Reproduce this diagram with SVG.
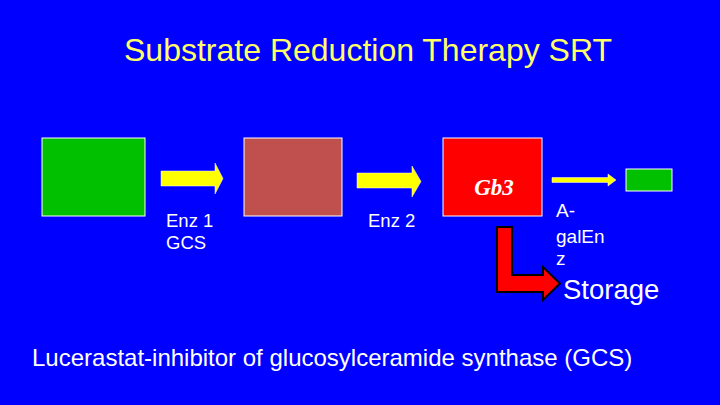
<svg xmlns="http://www.w3.org/2000/svg" width="720" height="405" viewBox="0 0 720 405">
<style>
.box{stroke:#ffffff;stroke-width:1}
.t{font-family:"Liberation Sans",Arial,sans-serif;fill:#ffffff}
.ya{fill:#ffff00;stroke:#ffffff;stroke-width:0.5}
</style>
<rect x="0" y="0" width="720" height="405" fill="#0000ff"/>
<text x="368" y="61" text-anchor="middle" class="t" style="fill:#ffff66" font-size="32">Substrate Reduction Therapy SRT</text>
<g id="node-green1"><rect class="box" x="42" y="138" width="103" height="78" fill="#00c000"/></g>
<g id="node-brown"><rect class="box" x="244" y="138" width="98" height="78" fill="#c0504d"/></g>
<g id="node-gb3"><rect class="box" x="443" y="138" width="99" height="78" fill="#ff0000"/>
<text x="494" y="195" text-anchor="middle" font-family="'Liberation Serif','Times New Roman',serif" font-style="italic" font-weight="bold" font-size="23" fill="#ffffff">Gb3</text></g>
<g id="node-green2"><rect class="box" x="626" y="169" width="46" height="22" fill="#00c000"/></g>
<g id="node-storage"><text x="563" y="299" class="t" font-size="27.5">Storage</text></g>
<g id="connectors">
<polygon class="ya" points="161,171 215,171 215,163 223,178.5 215,194 215,186 161,186"/>
<polygon class="ya" points="357,173 412,173 412,166 421,181.5 412,197 412,188 357,188"/>
<polygon class="ya" points="552,177.5 608,177.5 608,174 616,180 608,186 608,182.5 552,182.5"/>
<polygon points="497,227 512,227 512,275 543,275 543,267 560,283.5 543,300 543,292 497,292" fill="#ff0000" stroke="#000000" stroke-width="2"/>
</g>
<text x="166" y="227" class="t" font-size="18.5">Enz 1</text>
<text x="166" y="249" class="t" font-size="18.5">GCS</text>
<text x="368" y="227" class="t" font-size="18.5">Enz 2</text>
<text x="556" y="217" class="t" font-size="19">A-</text>
<text x="556" y="243" class="t" font-size="19">galEn</text>
<text x="556" y="265" class="t" font-size="19">z</text>
<text x="32" y="366" class="t" font-size="24">Lucerastat-inhibitor of glucosylceramide synthase (GCS)</text>
</svg>
